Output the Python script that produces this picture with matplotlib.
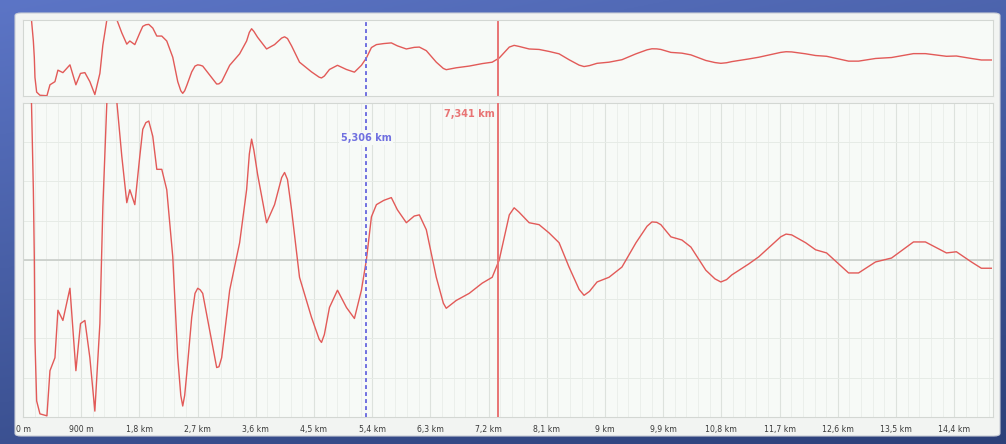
import numpy as np
import matplotlib
matplotlib.use("Agg")
import matplotlib.pyplot as plt
from matplotlib.patches import FancyBboxPatch
from matplotlib.ticker import MultipleLocator, FuncFormatter

# ---- data (distance in metres, signal value) ----
distance_m = [0, 130, 160, 175, 185, 211, 262, 370, 417, 494, 540, 617, 726, 818, 889, 957,
              1034, 1111, 1189, 1235, 1297, 1374, 1451, 1528, 1605, 1652, 1729, 1806, 1852,
              1900, 1945, 2007, 2069, 2146, 2223, 2316, 2393, 2440, 2470, 2500, 2532, 2609,
              2660, 2702, 2740, 2779, 2887, 2995, 3030, 3072, 3196, 3350, 3458, 3500, 3535,
              3570, 3628, 3767, 3890, 4000, 4045, 4090, 4153, 4276, 4461, 4580, 4616, 4660,
              4739, 4863, 5002, 5125, 5233, 5310, 5388, 5465, 5580, 5696, 5789, 5928, 6050,
              6129, 6237, 6391, 6500, 6545, 6600, 6700, 6900, 7101, 7256, 7364, 7520, 7595,
              7670, 7827, 7981, 8135, 8290, 8444, 8600, 8676, 8760, 8877, 9062, 9262, 9479,
              9650, 9726, 9800, 9864, 10019, 10189, 10328, 10559, 10700, 10791, 10880, 10961,
              11223, 11377, 11717, 11800, 11887, 12103, 12257, 12427, 12767, 12921, 13183,
              13431, 13770, 13955, 14280, 14434, 14666, 14820, 14974]
signal = [4.6, 4.1, 1.8, 0.05, -2.05, -3.59, -3.92, -3.97, -2.82, -2.49, -1.28, -1.54, -0.72,
          -2.82, -1.62, -1.54, -2.49, -3.85, -1.62, 1.36, 4.03, 5.0, 4.03, 2.64, 1.46, 1.79,
          1.41, 2.64, 3.33, 3.50, 3.54, 3.15, 2.31, 2.31, 1.79, 0.08, -2.49, -3.45, -3.72,
          -3.45, -2.90, -1.46, -0.85, -0.72, -0.76, -0.85, -1.79, -2.74, -2.72, -2.49, -0.77,
          0.44, 1.79, 2.70, 3.08, 2.80, 2.18, 0.95, 1.41, 2.10, 2.23, 2.05, 1.28, -0.44,
          -1.46, -2.02, -2.10, -1.90, -1.21, -0.77, -1.21, -1.49, -0.77, 0.0, 1.10, 1.41,
          1.52, 1.59, 1.28, 0.95, 1.12, 1.15, 0.77, -0.44, -1.10, -1.23, -1.16, -1.03, -0.85,
          -0.59, -0.44, 0.0, 1.15, 1.33, 1.22, 0.95, 0.90, 0.69, 0.44, -0.18, -0.75, -0.90,
          -0.80, -0.56, -0.44, -0.18, 0.44, 0.86, 0.97, 0.96, 0.90, 0.59, 0.51, 0.33, -0.26,
          -0.48, -0.56, -0.50, -0.38, -0.10, 0.08, 0.59, 0.66, 0.64, 0.44, 0.26, 0.18, -0.33,
          -0.33, -0.05, 0.05, 0.46, 0.46, 0.18, 0.21, -0.05, -0.21, -0.21]

cursor_blue_m = 5306
cursor_red_m = 7341
cursor_blue_label = "5,306 km"
cursor_red_label = "7,341 km"

x_max_m = 15000
tick_step_m = 900
y_lim = 4.0

def fmt_dist(v, pos=None):
    if v < 1000:
        return f"{int(round(v))} m"
    km = v / 1000.0
    s = f"{km:.1f}".rstrip("0").rstrip(".")
    return s.replace(".", ",") + " km"

W, H = 1006, 444
fig = plt.figure(figsize=(W / 100, H / 100), dpi=100)

# blue frame background gradient
bg = fig.add_axes([0, 0, 1, 1], zorder=-10)
gy, gx = np.mgrid[0:1:200j, 0:1:200j]
t = 0.55 * gy + 0.25 * gx
c0 = np.array([0x5c, 0x75, 0xc6]) / 255
c1 = np.array([0x20, 0x33, 0x66]) / 255
img = c0[None, None, :] * (1 - t[..., None]) + c1[None, None, :] * t[..., None]
bg.imshow(img, extent=[0, 1, 0, 1], aspect="auto", origin="upper")
bg.set_xlim(0, 1); bg.set_ylim(0, 1); bg.axis("off")
panel = FancyBboxPatch((15 / W, 1 - 436 / H), (1000 - 15) / W, (436 - 13) / H,
                       boxstyle="round,pad=0,rounding_size=0.006",
                       transform=bg.transAxes, facecolor="#f2f4f2", edgecolor="#c9cdd6", lw=0.8)
bg.add_patch(panel)

def frac(x0, y0, x1, y1):
    return [x0 / W, 1 - y1 / H, (x1 - x0) / W, (y1 - y0) / H]

curve_col = "#e25a58"
red_col = "#e87474"
blue_col = "#7070e0"
panel_bg = "#f7faf7"

# ---- overview panel ----
ax_top = fig.add_axes(frac(23, 20, 993, 96))
ax_top.set_facecolor(panel_bg)
ax_top.plot(distance_m, signal, color=curve_col, lw=1.0, solid_joinstyle="round")
ax_top.set_xlim(0, x_max_m)
ax_top.set_ylim(-y_lim, y_lim)
ax_top.axvline(cursor_blue_m, color=blue_col, lw=1.4, ls=(0, (2.0, 1.6)))
ax_top.axvline(cursor_red_m, color=red_col, lw=1.4)
ax_top.set_xticks([]); ax_top.set_yticks([])
for s in ax_top.spines.values():
    s.set_color("#d3d7d3"); s.set_linewidth(0.8)

# ---- main panel ----
ax = fig.add_axes(frac(23, 103, 993, 417))
ax.set_facecolor(panel_bg)
ax.set_xlim(0, x_max_m)
ax.set_ylim(-y_lim, y_lim)
ax.xaxis.set_major_locator(MultipleLocator(tick_step_m))
ax.xaxis.set_minor_locator(MultipleLocator(tick_step_m / 5))
ax.yaxis.set_major_locator(MultipleLocator(1))
ax.xaxis.set_major_formatter(FuncFormatter(fmt_dist))
ax.grid(which="major", axis="x", color="#dde2dd", lw=0.8)
ax.grid(which="minor", axis="x", color="#e9eee9", lw=0.6)
ax.grid(which="major", axis="y", color="#e6ebe6", lw=0.7)
ax.axhline(0, color="#c9cdc9", lw=1.2, zorder=1.5)
ax.set_axisbelow(True)
ax.tick_params(axis="x", which="both", length=0, labelsize=5.6, labelcolor="#3a3a3a", pad=6)
ax.tick_params(axis="y", which="both", length=0, labelleft=False)
ax.plot(distance_m, signal, color=curve_col, lw=1.0, zorder=3, solid_joinstyle="round")
ax.axvline(cursor_blue_m, color=blue_col, lw=1.4, ls=(0, (2.0, 1.6)), zorder=4)
ax.axvline(cursor_red_m, color=red_col, lw=1.4, zorder=4)
for s in ax.spines.values():
    s.set_color("#d3d7d3"); s.set_linewidth(0.8)

ax.text(cursor_blue_m, 3.1, cursor_blue_label, color=blue_col, fontsize=7, fontweight="bold",
        ha="center", va="center", zorder=5,
        bbox=dict(facecolor=panel_bg, edgecolor="none", pad=1.0))
ax.text(cursor_red_m - 40, 3.72, cursor_red_label, color=red_col, fontsize=7, fontweight="bold",
        ha="right", va="center", zorder=5)

fig.savefig("out.png", dpi=100)
